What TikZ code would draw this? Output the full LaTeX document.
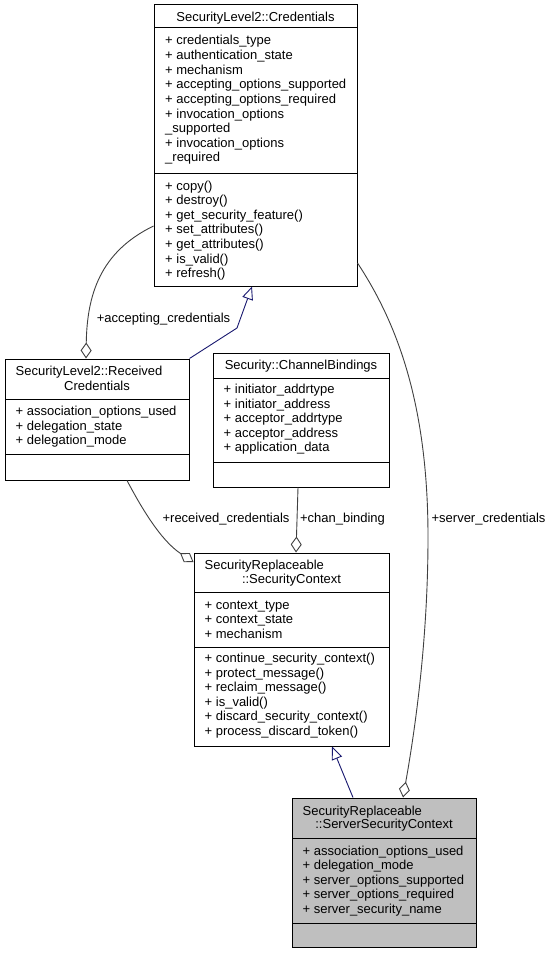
\documentclass[tikz,border=0pt]{standalone}
\usepackage{fontspec}
\setmainfont{Liberation Sans}
\usetikzlibrary{arrows.meta}
\definecolor{boxgray}{HTML}{BFBFBF}
\definecolor{edgegray}{HTML}{404040}
\definecolor{inhblue}{HTML}{191970}
\begin{document}
\begin{tikzpicture}[x=1pt,y=-1pt,
    cls/.style={draw=black, line width=1pt, fill=white, inner sep=0pt},
    txt/.style={inner sep=0pt, anchor=base west, font=\fontsize{13}{14.5}\selectfont},
    usage/.style={draw=edgegray, line width=0.9pt, -{Diamond[open, length=16pt, width=11pt, line width=0.9pt]}},
    inherit/.style={draw=inhblue, line width=0.9pt, -{Triangle[open, length=13pt, width=11pt, line width=0.9pt]}}]
     \useasboundingbox[fill=white] (0,0) rectangle (552,955);
     \node[cls, minimum width=203pt, minimum height=281pt] (cred) at (255.5,145.5) {};
     \node[cls, minimum width=184pt, minimum height=121pt] (recv) at (97,419.5) {};
     \node[cls, minimum width=176pt, minimum height=134pt] (chan) at (301,420) {};
     \node[cls, minimum width=195pt, minimum height=193pt] (ctx) at (291.5,649.5) {};
     \node[cls, fill=boxgray, minimum width=184pt, minimum height=149pt] (serv) at (384,872.5) {};
     \draw[line width=1pt] (154,28) -- (357,28); \draw[line width=1pt] (154,173) -- (357,173);
     \draw[line width=1pt] (5,399) -- (189,399); \draw[line width=1pt] (5,454) -- (189,454);
     \draw[line width=1pt] (213,378) -- (389,378); \draw[line width=1pt] (213,462) -- (389,462);
     \draw[line width=1pt] (194,592) -- (389,592); \draw[line width=1pt] (194,647) -- (389,647);
     \draw[line width=1pt] (292,838) -- (476,838); \draw[line width=1pt] (292,923) -- (476,923);
     \node[txt, anchor=base] (credH) at (255.5,22) {SecurityLevel2::Credentials};
     \node[txt] (recvH1) at (15.5,375) {SecurityLevel2::Received};
     \node[txt, anchor=base] (recvH2) at (97,390.5) {Credentials};
     \node[txt, anchor=base] (chanH) at (301,369) {Security::ChannelBindings};
     \node[txt] (ctxH1) at (204.5,569.5) {SecurityReplaceable};
     \node[txt, anchor=base] (ctxH2) at (291.5,583) {::SecurityContext};
     \node[txt] (servH1) at (302.5,815) {SecurityReplaceable};
     \node[txt, anchor=base] (servH2) at (384,828.5) {::ServerSecurityContext};
     \foreach \m [count=\i from 0] in {+ credentials\_type, + authentication\_state, + mechanism,
       + accepting\_options\_supported, + accepting\_options\_required, + invocation\_options,
       \_supported, + invocation\_options, \_required}
       \node[txt] (credA\i) at (165,45+14.6*\i) {\m};
     \foreach \m [count=\i from 0] in {+ copy(), + destroy(), + get\_security\_feature(),
       + set\_attributes(), + get\_attributes(), + is\_valid(), + refresh()}
       \node[txt] (credM\i) at (165,190+14.6*\i) {\m};
     \foreach \m [count=\i from 0] in {+ association\_options\_used, + delegation\_state, + delegation\_mode}
       \node[txt] (recvA\i) at (15.5,415.5+14.6*\i) {\m};
     \foreach \m [count=\i from 0] in {+ initiator\_addrtype, + initiator\_address, + acceptor\_addrtype,
       + acceptor\_address, + application\_data}
       \node[txt] (chanA\i) at (223.5,393.5+14.6*\i) {\m};
     \foreach \m [count=\i from 0] in {+ context\_type, + context\_state, + mechanism}
       \node[txt] (ctxA\i) at (204.5,609+14.6*\i) {\m};
     \foreach \m [count=\i from 0] in {+ continue\_security\_context(), + protect\_message(), + reclaim\_message(),
       + is\_valid(), + discard\_security\_context(), + process\_discard\_token()}
       \node[txt] (ctxM\i) at (204.5,662.5+14.6*\i) {\m};
     \foreach \m [count=\i from 0] in {+ association\_options\_used, + delegation\_mode, + server\_options\_supported,
       + server\_options\_required, + server\_security\_name}
       \node[txt] (servA\i) at (302.5,855+14.6*\i) {\m};
     \draw[usage] ([yshift=-80.5pt]cred.west) .. controls (100,252) and (87,295) .. ([xshift=-11pt]recv.north);
     \draw[inherit] (recv.north east) -- (237,328) -- ([xshift=-3.5pt]cred.south);
     \draw[usage] ([xshift=30pt]recv.south) .. controls (140,505) and (160,540) .. ([yshift=87.5pt]ctx.west);
     \draw[usage] ([xshift=-3pt]chan.south) -- ([xshift=4.5pt]ctx.north);
     \draw[usage] ([yshift=-117.5pt]cred.east) .. controls (395,320) and (428,400) .. (428,537)
       .. controls (428,640) and (415,730) .. ([xshift=19pt]serv.north);
     \draw[inherit] ([xshift=-31pt]serv.north) -- ([xshift=40.5pt]ctx.south);
     \node[txt, anchor=base] (lblAcc) at (163.5,322) {+accepting\_credentials};
     \node[txt, anchor=base] (lblRecv) at (226,522.5) {+received\_credentials};
     \node[txt, anchor=base] (lblChan) at (342.5,522.5) {+chan\_binding};
     \node[txt, anchor=base] (lblServ) at (488.5,522.5) {+server\_credentials};
    \end{tikzpicture}
\end{document}
